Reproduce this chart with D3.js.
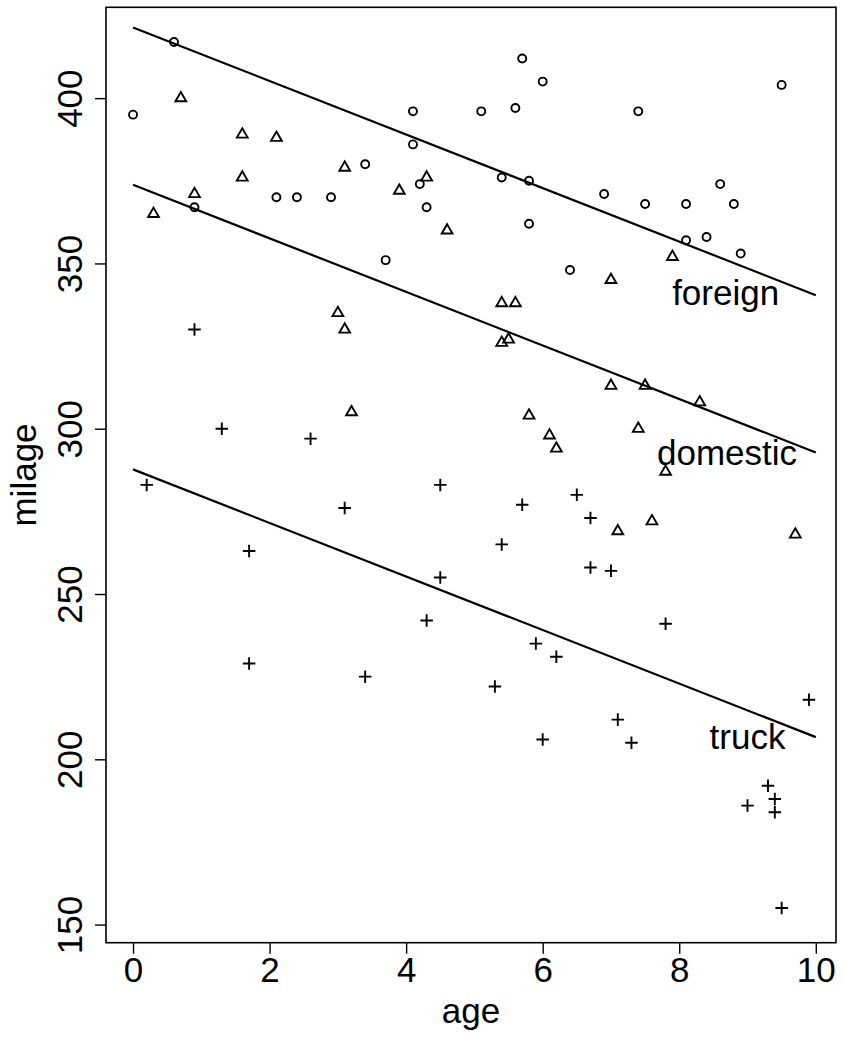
<!DOCTYPE html>
<html>
<head>
<meta charset="utf-8">
<script src="https://cdn.jsdelivr.net/npm/d3@7/dist/d3.min.js"></script>
<style>
  html, body { margin: 0; padding: 0; background: #fff; }
  svg { display: block; font-family: "Liberation Sans", Arial, sans-serif; }
</style>
</head>
<body>
<svg id="chart" width="844" height="1040"></svg>
<script>
// Vehicle age vs. milage, three groups
const foreignAge = [0, 0.6, 0.9, 2.1, 2.4, 2.9, 3.4, 3.7, 4.1, 4.1, 4.2, 4.3, 5.1, 5.4, 5.6, 5.7, 5.8, 5.8, 6.0, 6.4, 6.9, 7.4, 7.5, 8.1, 8.1, 8.4, 8.6, 8.8, 8.9, 9.5];
const foreignMilage = [395, 417, 367, 370, 370, 370, 380, 351, 396, 386, 374, 367, 396, 376, 397, 412, 375, 362, 405, 348, 371, 396, 368, 368, 357, 358, 374, 368, 353, 404];

const domesticAge = [0.3, 0.7, 0.9, 1.6, 1.6, 2.1, 3.0, 3.1, 3.1, 3.2, 3.9, 4.3, 4.6, 5.4, 5.6, 5.4, 5.5, 5.8, 6.1, 6.2, 7.0, 7.0, 7.4, 7.5, 7.6, 7.1, 7.8, 7.9, 8.3, 9.7];
const domesticMilage = [365, 400, 371, 389, 376, 388, 335, 379, 330, 305, 372, 376, 360, 338, 338, 326, 327, 304, 298, 294, 345, 313, 300, 313, 272, 269, 287, 352, 308, 268];

const truckAge = [0.2, 0.9, 1.3, 1.7, 1.7, 2.6, 3.1, 3.4, 4.3, 4.5, 4.5, 5.3, 5.4, 5.7, 5.9, 6.0, 6.2, 6.5, 6.7, 6.7, 7.0, 7.1, 7.3, 7.8, 9.0, 9.3, 9.4, 9.4, 9.5, 9.9];
const truckMilage = [283, 330, 300, 263, 229, 297, 276, 225, 242, 283, 255, 222, 265, 277, 235, 206, 231, 280, 273, 258, 257, 212, 205, 241, 186, 192, 188, 184, 155, 218];

// Fitted parallel lines (common slope, one intercept per group)
const groupNames = ["foreign", "domestic", "truck"];
const lineIntercepts = [421.4, 373.8, 287.7];
const lineSlope = -8.1;
const lineAgeRange = [0, 10];

// Group label anchors (age, milage at text baseline)
const labelAge = [8.68, 8.7, 9.0];
const labelMilage = [337.4, 289, 203];

const xTicks = [0, 2, 4, 6, 8, 10];
const yTicks = [150, 200, 250, 300, 350, 400];

const margin = { left: 106, right: 8, top: 7.3, bottom: 97.3 };
const W = 844, H = 1040;

const svg = d3.select("#chart");

// R-style 4% padding around the data range
function padded(vals) {
  const [lo, hi] = d3.extent(vals);
  const d = (hi - lo) * 0.04;
  return [lo - d, hi + d];
}
const allAge = foreignAge.concat(domesticAge, truckAge);
const allMil = foreignMilage.concat(domesticMilage, truckMilage);

const x = d3.scaleLinear().domain(padded(allAge)).range([margin.left, W - margin.right]);
const y = d3.scaleLinear().domain(padded(allMil)).range([H - margin.bottom, margin.top]);

const fontSize = 35;

// Plot frame
svg.append("rect")
  .attr("x", margin.left).attr("y", margin.top)
  .attr("width", W - margin.right - margin.left)
  .attr("height", H - margin.bottom - margin.top)
  .attr("fill", "none").attr("stroke", "#000").attr("stroke-width", 1.6);

// Axes
const xAxis = svg.append("g")
  .attr("transform", `translate(0,${H - margin.bottom})`)
  .call(d3.axisBottom(x).tickValues(xTicks).tickSize(11).tickPadding(4).tickFormat(d3.format("d")));
const yAxis = svg.append("g")
  .attr("transform", `translate(${margin.left},0)`)
  .call(d3.axisLeft(y).tickValues(yTicks).tickSize(11).tickFormat(d3.format("d")));

[xAxis, yAxis].forEach(g => {
  g.select(".domain").remove();
  g.selectAll(".tick line").attr("stroke", "#000").attr("stroke-width", 1.4);
  g.selectAll(".tick text").attr("fill", "#000")
    .style("font-size", fontSize + "px")
    .style("font-family", '"Liberation Sans", Arial, sans-serif');
});
xAxis.selectAll(".tick text").attr("dy", null).attr("y", 39);

// y tick labels run parallel to the axis
yAxis.selectAll(".tick text")
  .attr("x", null).attr("dy", null)
  .attr("text-anchor", "middle")
  .attr("transform", "translate(-24,0) rotate(-90)");

// Axis titles
svg.append("text")
  .attr("x", (margin.left + W - margin.right) / 2).attr("y", 1023)
  .attr("text-anchor", "middle").style("font-size", fontSize + "px")
  .text("age");
svg.append("text")
  .attr("transform", `translate(36,${(margin.top + H - margin.bottom) / 2}) rotate(-90)`)
  .attr("text-anchor", "middle").style("font-size", fontSize + "px")
  .text("milage");

// Fitted lines
const lines = svg.append("g");
lineIntercepts.forEach(b => {
  lines.append("line")
    .attr("x1", x(lineAgeRange[0])).attr("y1", y(b + lineSlope * lineAgeRange[0]))
    .attr("x2", x(lineAgeRange[1])).attr("y2", y(b + lineSlope * lineAgeRange[1]))
    .attr("stroke", "#000").attr("stroke-width", 2.2);
});

// Point symbols
const r = 4;
const pts = svg.append("g").attr("fill", "none").attr("stroke", "#000").attr("stroke-width", 1.9);

pts.selectAll("circle")
  .data(d3.zip(foreignAge, foreignMilage))
  .join("circle")
  .attr("cx", d => x(d[0])).attr("cy", d => y(d[1])).attr("r", r);

const tri = (cx, cy) => {
  const top = 1.555 * r, half = 1.347 * r, base = 0.778 * r;
  return `M${cx},${cy - top}L${cx + half},${cy + base}L${cx - half},${cy + base}Z`;
};
pts.selectAll("path.tri")
  .data(d3.zip(domesticAge, domesticMilage))
  .join("path").attr("class", "tri")
  .attr("stroke-linejoin", "miter")
  .attr("d", d => tri(x(d[0]), y(d[1])));

const plus = (cx, cy) => {
  const h = 1.414 * r + 0.6;
  return `M${cx - h},${cy}H${cx + h}M${cx},${cy - h}V${cy + h}`;
};
pts.selectAll("path.plus")
  .data(d3.zip(truckAge, truckMilage))
  .join("path").attr("class", "plus")
  .attr("d", d => plus(x(d[0]), y(d[1])));

// Group labels
svg.append("g").selectAll("text")
  .data(groupNames)
  .join("text")
  .attr("x", (d, i) => x(labelAge[i]))
  .attr("y", (d, i) => y(labelMilage[i]))
  .attr("text-anchor", "middle")
  .style("font-size", fontSize + "px")
  .attr("fill", "#000")
  .text(d => d);
</script>
</body>
</html>
